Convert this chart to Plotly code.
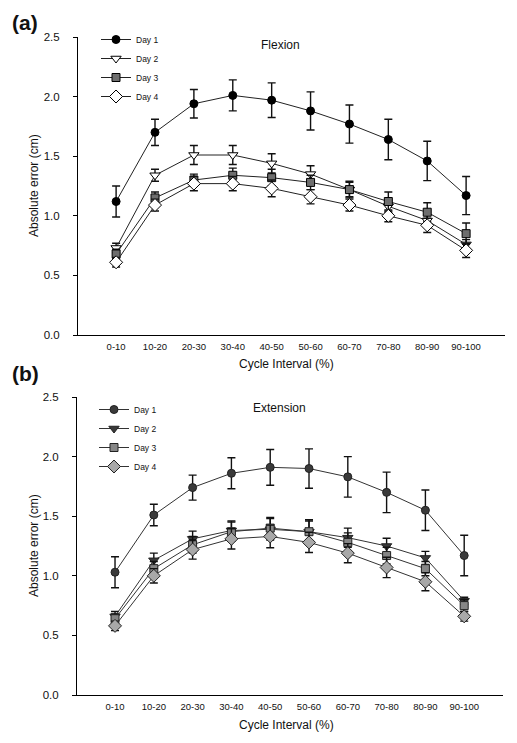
import plotly.graph_objects as go

W, H = 517, 743

categories = ["0-10", "10-20", "20-30", "30-40", "40-50", "50-60", "60-70", "70-80", "80-90", "90-100"]
days = ["Day 1", "Day 2", "Day 3", "Day 4"]
y_ticks = [0.0, 0.5, 1.0, 1.5, 2.0, 2.5]

# Panel (a) Flexion
flex_day1 = [1.12, 1.70, 1.94, 2.01, 1.97, 1.88, 1.77, 1.64, 1.46, 1.17]
flex_day1_err = [0.13, 0.11, 0.12, 0.13, 0.145, 0.16, 0.16, 0.17, 0.165, 0.16]
flex_day2 = [0.73, 1.34, 1.51, 1.51, 1.44, 1.35, 1.22, 1.08, 0.96, 0.76]
flex_day2_err = [0.04, 0.05, 0.08, 0.08, 0.08, 0.07, 0.06, 0.05, 0.05, 0.04]
flex_day3 = [0.68, 1.15, 1.30, 1.34, 1.32, 1.28, 1.22, 1.12, 1.03, 0.85]
flex_day3_err = [0.04, 0.05, 0.05, 0.06, 0.07, 0.06, 0.07, 0.08, 0.08, 0.09]
flex_day4 = [0.61, 1.09, 1.27, 1.27, 1.23, 1.16, 1.09, 1.00, 0.92, 0.71]
flex_day4_err = [0.04, 0.05, 0.06, 0.06, 0.07, 0.06, 0.05, 0.05, 0.06, 0.06]

# Panel (b) Extension
ext_day1 = [1.03, 1.51, 1.74, 1.86, 1.91, 1.90, 1.83, 1.70, 1.55, 1.17]
ext_day1_err = [0.13, 0.09, 0.105, 0.13, 0.15, 0.165, 0.17, 0.17, 0.17, 0.17]
ext_day2 = [0.66, 1.13, 1.31, 1.38, 1.39, 1.37, 1.32, 1.25, 1.15, 0.79]
ext_day2_err = [0.04, 0.06, 0.065, 0.08, 0.09, 0.09, 0.08, 0.065, 0.055, 0.03]
ext_day3 = [0.64, 1.06, 1.26, 1.37, 1.40, 1.37, 1.28, 1.17, 1.06, 0.75]
ext_day3_err = [0.04, 0.06, 0.07, 0.08, 0.09, 0.10, 0.08, 0.07, 0.06, 0.05]
ext_day4 = [0.58, 1.00, 1.22, 1.31, 1.33, 1.28, 1.19, 1.07, 0.95, 0.66]
ext_day4_err = [0.04, 0.06, 0.08, 0.085, 0.095, 0.085, 0.08, 0.085, 0.075, 0.04]

FONT = "Liberation Sans, Arial, sans-serif"


def px(x):
    return x / W


def py(y):
    return 1 - y / H


fig = go.Figure()

styles_a = [
    dict(symbol="circle", color="#000000", size=8),
    dict(symbol="triangle-down", color="#ffffff", size=9),
    dict(symbol="square", color="#6e6e6e", size=8),
    dict(symbol="diamond", color="#ffffff", size=10),
]
styles_b = [
    dict(symbol="circle", color="#3a3a3a", size=8),
    dict(symbol="triangle-down", color="#3a3a3a", size=9),
    dict(symbol="square", color="#868686", size=8),
    dict(symbol="diamond", color="#a8a8a8", size=10),
]

flex = [(flex_day1, flex_day1_err), (flex_day2, flex_day2_err), (flex_day3, flex_day3_err), (flex_day4, flex_day4_err)]
ext = [(ext_day1, ext_day1_err), (ext_day2, ext_day2_err), (ext_day3, ext_day3_err), (ext_day4, ext_day4_err)]


def add_panel(series, styles, xa, ya, legend, linecolor, edge):
    for name, (vals, errs), st in zip(days, series, styles):
        fig.add_trace(go.Scatter(
            x=categories, y=vals, name=name, mode="lines+markers",
            line=dict(color=linecolor, width=1),
            marker=dict(symbol=st["symbol"], size=st["size"], color=st["color"],
                        line=dict(color=edge, width=1)),
            error_y=dict(type="data", array=errs, visible=True, color="#111111",
                         thickness=1.4, width=4),
            xaxis=xa, yaxis=ya, legend=legend,
        ))


add_panel(flex, styles_a, "x", "y", "legend", "#222222", "#000000")
add_panel(ext, styles_b, "x2", "y2", "legend2", "#333333", "#222222")

xaxis_common = dict(
    type="category", range=[-0.98, 10.0], showgrid=False, zeroline=False,
    showline=True, linecolor="#000000", linewidth=1, ticks="",
    tickfont=dict(family=FONT, size=9.5, color="#111111"),
    automargin=False, ticklabelstandoff=3, fixedrange=True,
)
yaxis_common = dict(
    range=[0, 2.5], tickvals=y_ticks, tickformat=".1f", showgrid=False, zeroline=False,
    showline=True, linecolor="#000000", linewidth=1, ticks="outside", ticklen=4,
    tickcolor="#000000", tickfont=dict(family=FONT, size=11.5, color="#111111"),
    automargin=False, ticklabelstandoff=11, fixedrange=True,
)

legend_common = dict(
    font=dict(family=FONT, size=8.5, color="#111111"), bgcolor="rgba(0,0,0,0)",
    borderwidth=0, tracegroupgap=0, xanchor="left", yanchor="middle",
    itemsizing="trace",
)

fig.update_layout(
    width=W, height=H,
    margin=dict(l=0, r=0, t=0, b=0),
    paper_bgcolor="#ffffff", plot_bgcolor="#ffffff",
    xaxis=dict(**xaxis_common, domain=[px(78), px(505)], anchor="y"),
    yaxis=dict(**yaxis_common, domain=[py(335), py(37)], anchor="x"),
    xaxis2=dict(**xaxis_common, domain=[px(77), px(503)], anchor="y2"),
    yaxis2=dict(**yaxis_common, domain=[py(695), py(397)], anchor="x2"),
    legend=dict(**legend_common, x=px(96), y=py(68)),
    legend2=dict(**legend_common, x=px(94), y=py(438)),
    showlegend=True,
    font=dict(family=FONT),
)

annotations = [
    dict(text="<b>(a)</b>", x=px(25), y=py(23), size=21),
    dict(text="<b>(b)</b>", x=px(25), y=py(373), size=21),
    dict(text="Flexion", x=px(280), y=py(45), size=12),
    dict(text="Extension", x=px(279), y=py(408), size=12),
    dict(text="Cycle Interval (%)", x=px(286), y=py(364), size=12),
    dict(text="Cycle Interval (%)", x=px(286), y=py(725), size=12),
]
for a in annotations:
    fig.add_annotation(text=a["text"], x=a["x"], y=a["y"], xref="paper", yref="paper",
                       showarrow=False, xanchor="center", yanchor="middle",
                       font=dict(family=FONT, size=a["size"], color="#111111"))

for yc in (186, 546):
    fig.add_annotation(text="Absolute error (cm)", x=px(34), y=py(yc), xref="paper", yref="paper",
                       showarrow=False, textangle=-90, xanchor="center", yanchor="middle",
                       font=dict(family=FONT, size=12, color="#111111"))

fig.write_html("out.html", config={"displayModeBar": False, "staticPlot": True},
               post_script="document.body.style.margin='0';")
